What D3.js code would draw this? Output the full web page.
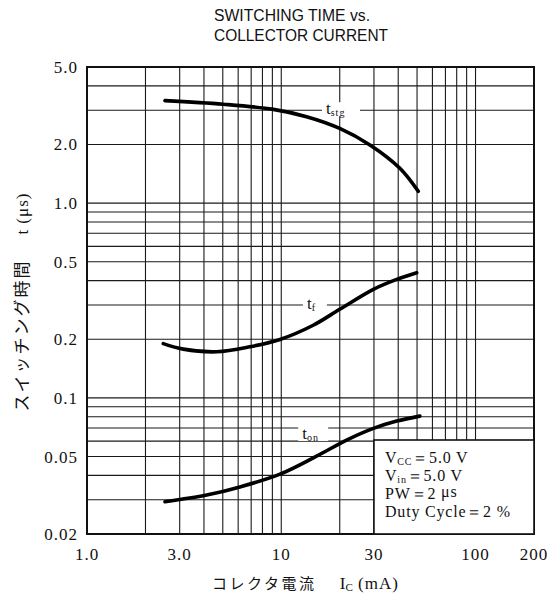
<!DOCTYPE html>
<html>
<head>
<meta charset="utf-8">
<script src="https://cdn.jsdelivr.net/npm/d3@7"></script>
<style>
body { margin: 0; background: #fff; }
text { fill: #111; }
</style>
</head>
<body>
<div id="chart"></div>
<script>
(function(){

/* ---------- data ---------- */
const xTicks      = [1, 3, 10, 30, 100, 200];
const xTickLabels = ["1.0", "3.0", "10", "30", "100", "200"];
const yTicks      = [5, 2, 1, 0.5, 0.2, 0.1, 0.05, 0.02];
const yTickLabels = ["5.0", "2.0", "1.0", "0.5", "0.2", "0.1", "0.05", "0.02"];

const xGrid = [2, 3, 4, 5, 6, 7, 8, 9, 10, 20, 30, 40, 50, 60, 70, 80, 90, 100];
const yGrid = [0.03, 0.04, 0.05, 0.06, 0.07, 0.08, 0.09, 0.1,
               0.2, 0.3, 0.4, 0.5, 0.6, 0.7, 0.8, 0.9, 1, 2, 3, 4];

// collector current (mA) / switching time (us)
const tstgIc = [2.52, 5.03, 9.1, 13.5, 20.0, 28.6, 40.8, 50.7];
const tstgT  = [3.36, 3.22, 3.03, 2.78, 2.42, 1.99, 1.51, 1.15];

const tfIc = [2.47, 3.13, 4.65, 6.9, 9.85, 14.6, 20.0, 29.8, 39.3, 49.8];
const tfT  = [0.190, 0.178, 0.1725, 0.183, 0.1995, 0.236, 0.285, 0.361, 0.406, 0.439];

const tonIc = [2.52, 4.13, 6.13, 9.85, 15.2, 21.7, 29.8, 39.3, 51.7];
const tonT  = [0.0293, 0.0317, 0.0349, 0.0406, 0.0502, 0.0607, 0.0697, 0.076, 0.0806];

const curveLabels = [
    {main:"t", sub:"stg", ic:20.3, t:3.0, w:38},
    {main:"t", sub:"f",   ic:14.9, t:0.3, w:24},
    {main:"t", sub:"on",  ic:14.6, t:0.0645, w:30}
];

const condLines = [
    ["V", "CC", "＝5.0  V"],
    ["V", "in", "＝5.0  V"],
    ["PW＝2  ", "", "μs"],
    ["Duty  Cycle＝2  %", "", ""]
];

/* ---------- svg ---------- */
const width = 560, height = 596;
const svg = d3.select("#chart").append("svg")
    .attr("width", width).attr("height", height);

const x = d3.scaleLog().domain([1, 200]).range([87, 534]);
const y = d3.scaleLog().domain([0.02, 5]).range([534, 67]);

const serif = "'Liberation Serif','DejaVu Serif',serif";

// title
const title = svg.append("g")
    .style("font-family", "'Liberation Sans','Arial',sans-serif")
    .style("font-size", "16px");
title.append("text").attr("x", 214).attr("y", 21)
    .attr("textLength", 156).attr("lengthAdjust", "spacingAndGlyphs")
    .text("SWITCHING TIME vs.");
title.append("text").attr("x", 214).attr("y", 41)
    .attr("textLength", 174).attr("lengthAdjust", "spacingAndGlyphs")
    .text("COLLECTOR CURRENT");

// grid
const grid = svg.append("g").attr("stroke", "#1a1a1a").attr("stroke-width", 1.1);
grid.selectAll("line.gx").data(xGrid).enter().append("line")
    .attr("x1", d => x(d)).attr("x2", d => x(d))
    .attr("y1", y(5)).attr("y2", y(0.02));
grid.selectAll("line.gy").data(yGrid).enter().append("line")
    .attr("x1", x(1)).attr("x2", x(200))
    .attr("y1", d => y(d)).attr("y2", d => y(d));

// frame
svg.append("rect")
    .attr("x", x(1)).attr("y", y(5))
    .attr("width", x(200) - x(1)).attr("height", y(0.02) - y(5))
    .attr("fill", "none").attr("stroke", "#111").attr("stroke-width", 2);

// tick labels
svg.append("g").selectAll("text").data(yTicks).enter().append("text")
    .attr("x", 78).attr("y", d => y(d) + 6)
    .attr("text-anchor", "end")
    .style("font-family", serif).style("font-size", "17px")
    .style("letter-spacing", "1px")
    .text((d, i) => yTickLabels[i]);

svg.append("g").selectAll("text").data(xTicks).enter().append("text")
    .attr("x", d => x(d)).attr("y", 560)
    .attr("text-anchor", "middle")
    .style("font-family", serif).style("font-size", "17px")
    .style("letter-spacing", "1px")
    .text((d, i) => xTickLabels[i]);

// axis titles
const xt = svg.append("text")
    .attr("x", 212).attr("y", 589)
    .style("font-family", "'Noto Sans CJK JP',sans-serif")
    .style("font-size", "15px");
xt.append("tspan").style("letter-spacing", "2.5px").text("コレクタ電流　 ");
xt.append("tspan").style("font-family", serif).style("font-size", "17px").text("I");
xt.append("tspan").style("font-family", serif).style("font-size", "11px").attr("dy", 2).text("C");
xt.append("tspan").style("font-family", serif).style("font-size", "17px").attr("dy", -2)
    .style("letter-spacing", "1px").text(" (mA)");

const yt = svg.append("text")
    .attr("transform", "translate(28,302) rotate(-90)")
    .attr("text-anchor", "middle")
    .style("font-family", "'Noto Sans CJK JP',sans-serif")
    .style("font-size", "17px");
yt.append("tspan").style("letter-spacing", "2px").text("スイッチング時間　 ");
yt.append("tspan").style("font-family", serif).style("font-size", "17px")
    .style("letter-spacing", "1px").text("t (μs)");

// curves
const line = d3.line()
    .x(d => x(d[0])).y(d => y(d[1]))
    .curve(d3.curveCatmullRom.alpha(0.5));

const series = [
    d3.zip(tstgIc, tstgT),
    d3.zip(tfIc, tfT),
    d3.zip(tonIc, tonT)
];

svg.append("g").selectAll("path").data(series).enter().append("path")
    .attr("d", line)
    .attr("fill", "none").attr("stroke", "#000")
    .attr("stroke-width", 3.6).attr("stroke-linecap", "round");

// curve labels
const lab = svg.append("g").selectAll("g").data(curveLabels).enter().append("g")
    .attr("transform", d => `translate(${x(d.ic)},${y(d.t)})`);
lab.append("rect")
    .attr("x", d => -d.w / 2).attr("y", -8)
    .attr("width", d => d.w).attr("height", 14)
    .attr("fill", "#fff");
const lt = lab.append("text")
    .attr("x", d => -d.w / 2 + 4).attr("y", 4)
    .style("font-family", serif).style("font-size", "17px");
lt.append("tspan").text(d => d.main);
lt.append("tspan").attr("dy", 2).style("font-size", "10px")
    .style("letter-spacing", "1px").text(d => d.sub);

// conditions box
svg.append("rect")
    .attr("x", x(30)).attr("y", 440)
    .attr("width", x(200) - x(30)).attr("height", y(0.02) - 440)
    .attr("fill", "#fff").attr("stroke", "#111").attr("stroke-width", 1.6);

const cond = svg.append("g").selectAll("text").data(condLines).enter().append("text")
    .attr("x", 385).attr("y", (d, i) => 463 + i * 18)
    .style("font-family", serif).style("font-size", "16px")
    .style("letter-spacing", "0.8px");
cond.append("tspan").text(d => d[0]);
cond.append("tspan").attr("dy", 2).style("font-size", "10px").text(d => d[1]);
cond.append("tspan").attr("dy", -2).text(d => d[2]);

})();
</script>
</body>
</html>
